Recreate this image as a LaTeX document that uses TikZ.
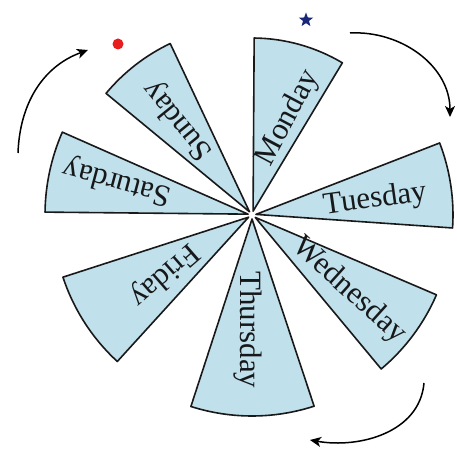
\documentclass[tikz,border=0pt]{standalone}
\usepackage{fontspec}
\setmainfont{Liberation Serif}
\usetikzlibrary{arrows.meta,shapes.geometric,calc}
\definecolor{wedgefill}{RGB}{192,224,235}
\definecolor{textc}{RGB}{22,24,26}
\definecolor{dotred}{RGB}{232,30,30}
\definecolor{starblue}{RGB}{25,40,120}
\newcommand\drawwedge[3]{%
  \pgfmathsetmacro\wmid{(#1+#2)/2}%
  \draw[wedge] ($(C)+(\wmid:4)$) -- ($(C)+(#1:#3)$) arc[start angle=#1, end angle=#2, radius=#3] -- cycle;}
\begin{document}
\begin{tikzpicture}[x=1pt,y=1pt,
 wedge/.style={draw=black!90, line width=1.6pt, fill=wedgefill, line join=round},
 day/.style={font=\fontsize{31}{33}\selectfont, text=textc, inner sep=0pt},
 cyc/.style={line width=1.5pt, -{Stealth[length=11pt,width=10pt,inset=3pt]}}]
\useasboundingbox (0,0) rectangle (457,459);
\fill[white] (0,0) rectangle (457,459);
\coordinate (C) at (252,244);
\drawwedge{59.3}{89.3}{177}
\drawwedge{-3.7}{21}{201}
\drawwedge{-50}{-23.4}{201}
\drawwedge{-107.7}{-72}{201}
\drawwedge{198.2}{227.4}{199}
\drawwedge{156.4}{179.2}{207}
\drawwedge{115.5}{140.2}{190}
\node[day, rotate=62] (mon) at ($(C)+(69.6:103.5)$) {Monday};
\node[day, rotate=8] (tue) at ($(C)+(7:124)$) {Tuesday};
\node[day, rotate=-42] (wed) at ($(C)+(-38:123)$) {Wednesday};
\node[day, rotate=-90] (thu) at ($(C)+(-92:115)$) {Thursday};
\node[day, rotate=-139] (fri) at ($(C)+(-145.7:106.5)$) {Friday};
\node[day, rotate=165] (sat) at ($(C)+(166:139)$) {Saturday};
\node[day, rotate=129] (sun) at ($(C)+(128:120)$) {Sunday};
\coordinate (a1s) at (18,306); \coordinate (a1e) at (88,409);
\coordinate (a2s) at (350,426); \coordinate (a2e) at (450,342);
\coordinate (a3s) at (424,76); \coordinate (a3e) at (310,19);
\draw[cyc] (a1s) to[out=88, in=200] (a1e);
\draw[cyc] (a2s) to[out=3, in=90] (a2e);
\draw[cyc] (a3s) to[out=-95, in=-10] (a3e);
\node[circle, fill=dotred, minimum size=11pt, inner sep=0pt] (dot) at (118,415) {};
\node[star, star points=5, star point ratio=2.4, fill=starblue, minimum size=15pt, inner sep=0pt] (star) at (306,439) {};
\end{tikzpicture}
\end{document}
